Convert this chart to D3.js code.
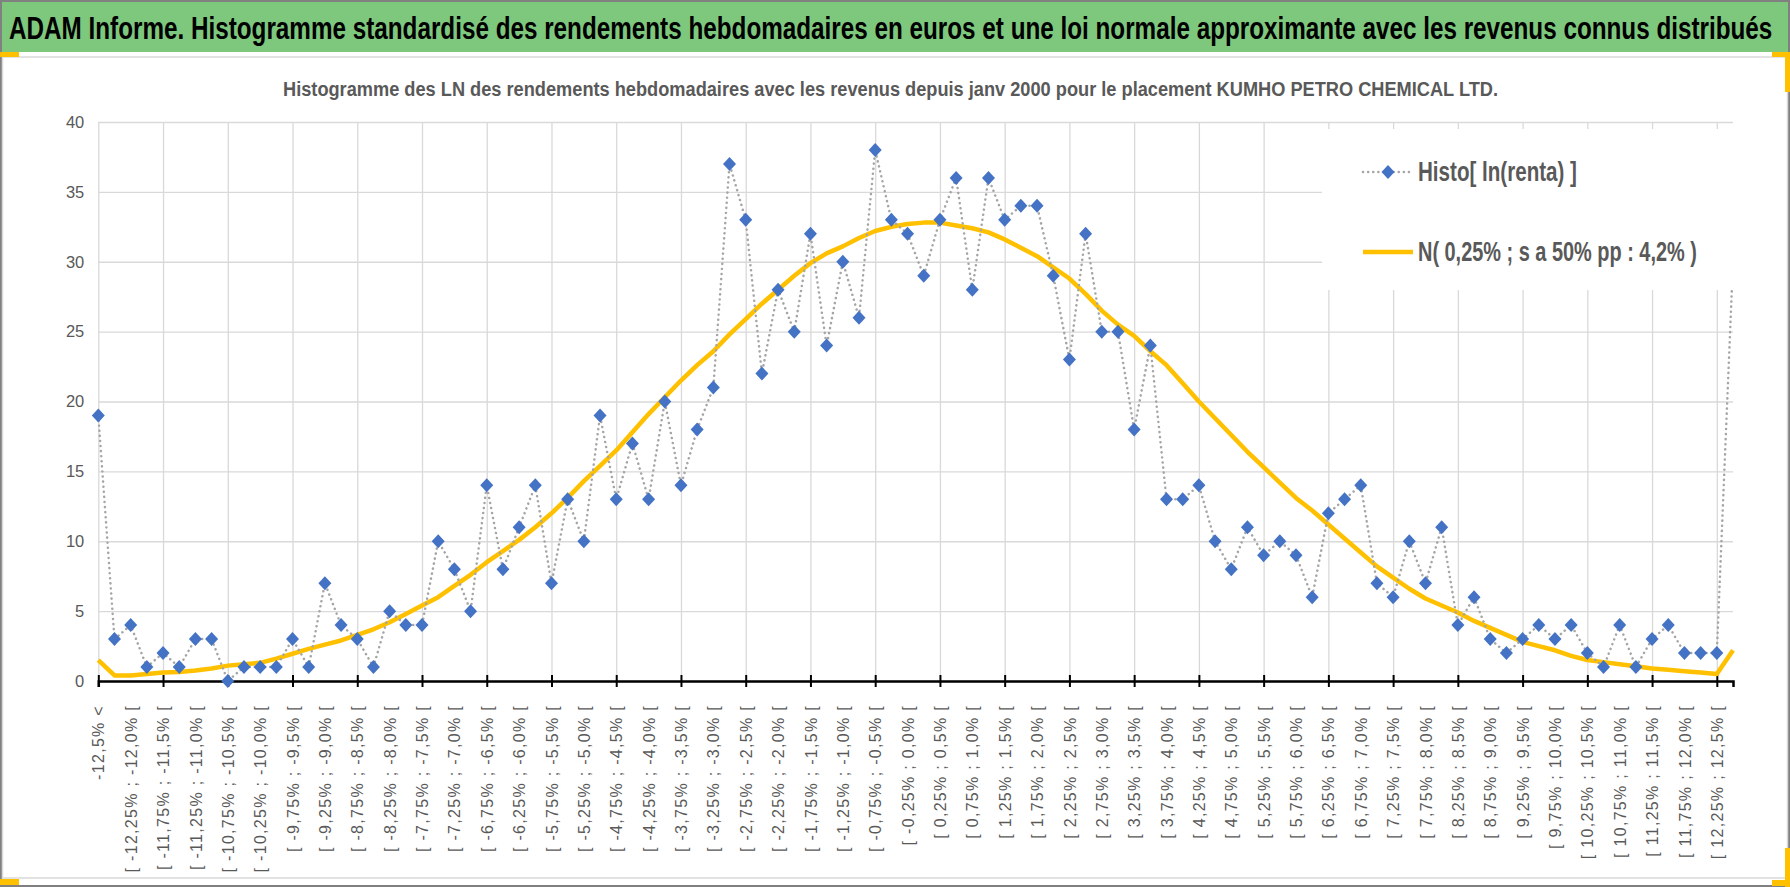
<!DOCTYPE html>
<html lang="fr">
<head>
  <meta charset="UTF-8">
  <title>ADAM Informe - Histogramme KUMHO PETRO CHEMICAL</title>
  <script src="https://cdnjs.cloudflare.com/ajax/libs/d3/7.8.5/d3.min.js"></script>
  <style>
    body { margin: 0; background: #fff; }
    svg { display: block; }
  </style>
</head>
<body>
  <svg width="1790" height="887"></svg>
  <script>
    // classes de rendement (une étiquette sur deux est affichée)
    const categories = [
      "-12,5% <",
      "[ -12,5% ; -12,25% [", "[ -12,25% ; -12,0% [", "[ -12,0% ; -11,75% [", "[ -11,75% ; -11,5% [",
      "[ -11,5% ; -11,25% [", "[ -11,25% ; -11,0% [", "[ -11,0% ; -10,75% [", "[ -10,75% ; -10,5% [",
      "[ -10,5% ; -10,25% [", "[ -10,25% ; -10,0% [", "[ -10,0% ; -9,75% [", "[ -9,75% ; -9,5% [",
      "[ -9,5% ; -9,25% [", "[ -9,25% ; -9,0% [", "[ -9,0% ; -8,75% [", "[ -8,75% ; -8,5% [",
      "[ -8,5% ; -8,25% [", "[ -8,25% ; -8,0% [", "[ -8,0% ; -7,75% [", "[ -7,75% ; -7,5% [",
      "[ -7,5% ; -7,25% [", "[ -7,25% ; -7,0% [", "[ -7,0% ; -6,75% [", "[ -6,75% ; -6,5% [",
      "[ -6,5% ; -6,25% [", "[ -6,25% ; -6,0% [", "[ -6,0% ; -5,75% [", "[ -5,75% ; -5,5% [",
      "[ -5,5% ; -5,25% [", "[ -5,25% ; -5,0% [", "[ -5,0% ; -4,75% [", "[ -4,75% ; -4,5% [",
      "[ -4,5% ; -4,25% [", "[ -4,25% ; -4,0% [", "[ -4,0% ; -3,75% [", "[ -3,75% ; -3,5% [",
      "[ -3,5% ; -3,25% [", "[ -3,25% ; -3,0% [", "[ -3,0% ; -2,75% [", "[ -2,75% ; -2,5% [",
      "[ -2,5% ; -2,25% [", "[ -2,25% ; -2,0% [", "[ -2,0% ; -1,75% [", "[ -1,75% ; -1,5% [",
      "[ -1,5% ; -1,25% [", "[ -1,25% ; -1,0% [", "[ -1,0% ; -0,75% [", "[ -0,75% ; -0,5% [",
      "[ -0,5% ; -0,25% [", "[ -0,25% ; 0,0% [", "[ 0,0% ; 0,25% [", "[ 0,25% ; 0,5% [",
      "[ 0,5% ; 0,75% [", "[ 0,75% ; 1,0% [", "[ 1,0% ; 1,25% [", "[ 1,25% ; 1,5% [",
      "[ 1,5% ; 1,75% [", "[ 1,75% ; 2,0% [", "[ 2,0% ; 2,25% [", "[ 2,25% ; 2,5% [",
      "[ 2,5% ; 2,75% [", "[ 2,75% ; 3,0% [", "[ 3,0% ; 3,25% [", "[ 3,25% ; 3,5% [",
      "[ 3,5% ; 3,75% [", "[ 3,75% ; 4,0% [", "[ 4,0% ; 4,25% [", "[ 4,25% ; 4,5% [",
      "[ 4,5% ; 4,75% [", "[ 4,75% ; 5,0% [", "[ 5,0% ; 5,25% [", "[ 5,25% ; 5,5% [",
      "[ 5,5% ; 5,75% [", "[ 5,75% ; 6,0% [", "[ 6,0% ; 6,25% [", "[ 6,25% ; 6,5% [",
      "[ 6,5% ; 6,75% [", "[ 6,75% ; 7,0% [", "[ 7,0% ; 7,25% [", "[ 7,25% ; 7,5% [",
      "[ 7,5% ; 7,75% [", "[ 7,75% ; 8,0% [", "[ 8,0% ; 8,25% [", "[ 8,25% ; 8,5% [",
      "[ 8,5% ; 8,75% [", "[ 8,75% ; 9,0% [", "[ 9,0% ; 9,25% [", "[ 9,25% ; 9,5% [",
      "[ 9,5% ; 9,75% [", "[ 9,75% ; 10,0% [", "[ 10,0% ; 10,25% [", "[ 10,25% ; 10,5% [",
      "[ 10,5% ; 10,75% [", "[ 10,75% ; 11,0% [", "[ 11,0% ; 11,25% [", "[ 11,25% ; 11,5% [",
      "[ 11,5% ; 11,75% [", "[ 11,75% ; 12,0% [", "[ 12,0% ; 12,25% [", "[ 12,25% ; 12,5% [",
      "> 12,5%"
    ];

    // nombre de semaines par classe
    const histo = [
      19, 3, 4, 1, 2, 1, 3, 3, 0, 1,
      1, 1, 3, 1, 7, 4, 3, 1, 5, 4,
      4, 10, 8, 5, 14, 8, 11, 14, 7, 13,
      10, 19, 13, 17, 13, 20, 14, 18, 21, 37,
      33, 22, 28, 25, 32, 24, 30, 26, 38, 33,
      32, 29, 33, 36, 28, 36, 33, 34, 34, 29,
      23, 32, 25, 25, 18, 24, 13, 13, 14, 10,
      8, 11, 9, 10, 9, 6, 12, 13, 14, 7,
      6, 10, 7, 11, 4, 6, 3, 2, 3, 4,
      3, 4, 2, 1, 4, 1, 3, 4, 2, 2,
      2, 30
    ];

    // loi normale approximante
    const normale = [
      1.5, 0.4, 0.4, 0.5, 0.6, 0.65, 0.75, 0.9, 1.1, 1.2,
      1.3, 1.6, 1.95, 2.3, 2.6, 2.9, 3.3, 3.7, 4.2, 4.8,
      5.4, 6.0, 6.8, 7.6, 8.5, 9.3, 10.1, 11.0, 12.0, 13.1,
      14.3, 15.4, 16.5, 17.8, 19.1, 20.3, 21.5, 22.6, 23.6, 24.8,
      25.9, 27.0, 28.0, 29.0, 29.9, 30.6, 31.1, 31.7, 32.2, 32.5,
      32.7, 32.8, 32.8, 32.6, 32.4, 32.1, 31.6, 31.0, 30.4, 29.6,
      28.8, 27.7, 26.5, 25.5, 24.7, 23.6, 22.6, 21.3, 20.0, 18.8,
      17.6, 16.4, 15.3, 14.2, 13.1, 12.2, 11.2, 10.2, 9.2, 8.2,
      7.4, 6.6, 5.9, 5.4, 4.9, 4.3, 3.8, 3.3, 2.8, 2.5,
      2.2, 1.8, 1.5, 1.35, 1.2, 1.05, 0.9, 0.8, 0.7, 0.6,
      0.5, 2.2
    ];

    const yTicks = [0, 5, 10, 15, 20, 25, 30, 35, 40];
    const titre = "ADAM Informe. Histogramme standardisé des rendements hebdomadaires en euros et une loi normale approximante avec les revenus connus distribués";
    const sousTitre = "Histogramme des LN des rendements hebdomadaires avec les revenus depuis janv 2000 pour le placement KUMHO PETRO CHEMICAL LTD.";
    const legende = ["Histo[ ln(renta) ]", "N( 0,25% ; s a 50% pp : 4,2% )"];

    const svg = d3.select("svg");
    const W = 1790, H = 887;
    const plot = { left: 98.3, right: 1733, top: 122, bottom: 681 };
    const grey = "#595959";
    const narrow = "'Liberation Sans Narrow', 'Liberation Sans', Arial, sans-serif";

    // squeeze a text horizontally so it spans the given width (Calibri-like look)
    function condensed(g, x0, y0, width) {
      g.each(function() {
        const w = this.getComputedTextLength();
        d3.select(this).attr("transform", `translate(${x0},${y0}) scale(${width / w},1)`);
      });
    }

    // cadre, bandeau titre
    svg.append("rect").attr("x", 1).attr("y", 1).attr("width", W - 2).attr("height", H - 2)
      .attr("fill", "#fff").attr("stroke", "#808080").attr("stroke-width", 2);
    svg.append("rect").attr("x", 2).attr("y", 2).attr("width", W - 4).attr("height", 50)
      .attr("fill", "#7ec87e");
    svg.append("rect").attr("x", 2.5).attr("y", 57).attr("width", W - 5).attr("height", 821)
      .attr("fill", "none").attr("stroke", "#d9d9d9").attr("stroke-width", 1.5);

    const orange = [[0, 52, 19, 5], [1772, 52, 18, 5], [1785, 52, 5, 40],
                    [0, 879, 19, 6], [1772, 880, 18, 6], [1785, 848, 5, 39]];
    svg.append("g").selectAll("rect").data(orange).join("rect")
      .attr("x", d => d[0]).attr("y", d => d[1]).attr("width", d => d[2]).attr("height", d => d[3])
      .attr("fill", "#ffc000");

    svg.append("text")
      .attr("font-family", narrow).attr("font-weight", "bold").attr("font-size", 31).attr("fill", "#000")
      .text(titre)
      .call(condensed, 9, 39, 1764);

    svg.append("text")
      .attr("font-family", narrow).attr("font-weight", "bold").attr("font-size", 21).attr("fill", grey)
      .text(sousTitre)
      .call(condensed, 283, 96, 1216);

    // échelles
    const x = d3.scalePoint().domain(categories).range([plot.left, plot.right]);
    const y = d3.scaleLinear().domain([0, 40]).range([plot.bottom, plot.top]);
    const every4 = categories.filter((d, i) => i % 4 === 0);
    const every2 = categories.filter((d, i) => i % 2 === 0);

    // quadrillage
    svg.append("g").attr("transform", `translate(0,${plot.bottom})`)
      .call(d3.axisBottom(x).tickValues(every4).tickSize(-(plot.bottom - plot.top)).tickFormat(""))
      .call(g => g.select(".domain").remove())
      .call(g => g.selectAll("line").attr("stroke", "#d9d9d9").attr("stroke-width", 1.3));

    svg.append("g").attr("transform", `translate(${plot.left},0)`)
      .call(d3.axisLeft(y).tickValues(yTicks).tickSize(-(plot.right - plot.left)).tickPadding(14))
      .call(g => g.select(".domain").remove())
      .call(g => g.selectAll("line").attr("stroke", "#d9d9d9").attr("stroke-width", 1.3))
      .call(g => g.selectAll("text").attr("fill", grey).attr("font-size", 16.5)
        .attr("font-family", "'Liberation Sans', Arial, sans-serif"));

    // axe des catégories
    const xAxis = svg.append("g").attr("transform", `translate(0,${plot.bottom})`);
    xAxis.append("g")
      .call(d3.axisBottom(x).tickValues(every4).tickSize(6).tickFormat(""))
      .call(g => g.select(".domain").attr("stroke", "#000").attr("stroke-width", 2.5))
      .call(g => g.selectAll(".tick line").attr("y1", -6).attr("stroke", "#000").attr("stroke-width", 2));
    xAxis.append("g")
      .call(d3.axisBottom(x).tickValues(every2).tickSize(0))
      .call(g => g.select(".domain").remove())
      .call(g => g.selectAll("text")
        .attr("transform", "rotate(-90)")
        .attr("x", -24).attr("y", 0).attr("dy", "0.35em")
        .style("text-anchor", "end")
        .attr("fill", grey).attr("font-size", 16).attr("letter-spacing", 1.3)
        .attr("font-family", "'Liberation Sans', Arial, sans-serif"));

    // séries
    const line = d3.line().x((d, i) => x(categories[i])).y(d => y(d));

    svg.append("path").datum(normale)
      .attr("d", line).attr("fill", "none")
      .attr("stroke", "#ffc000").attr("stroke-width", 4.5).attr("stroke-linejoin", "round");

    svg.append("path").datum(histo)
      .attr("d", line).attr("fill", "none")
      .attr("stroke", "#a5a5a5").attr("stroke-width", 2.5)
      .attr("stroke-dasharray", "0.1 5").attr("stroke-linecap", "round");

    const diamond = "M0,-7L6.5,0L0,7L-6.5,0Z";
    svg.append("g").selectAll("path").data(histo).join("path")
      .attr("d", diamond)
      .attr("transform", (d, i) => `translate(${x(categories[i])},${y(d)})`)
      .attr("fill", "#4472c4");

    // légende
    const leg = svg.append("g");
    leg.append("rect").attr("x", 1322).attr("y", 129).attr("width", 420).attr("height", 161).attr("fill", "#fff");
    leg.append("line").attr("x1", 1363).attr("x2", 1412).attr("y1", 172).attr("y2", 172)
      .attr("stroke", "#a5a5a5").attr("stroke-width", 2.5)
      .attr("stroke-dasharray", "0.1 5").attr("stroke-linecap", "round");
    leg.append("path").attr("d", diamond).attr("transform", "translate(1388,172)").attr("fill", "#4472c4");
    leg.append("line").attr("x1", 1363).attr("x2", 1413).attr("y1", 252).attr("y2", 252)
      .attr("stroke", "#ffc000").attr("stroke-width", 4.5);
    leg.selectAll("text").data(legende).join("text")
      .attr("font-family", narrow).attr("font-weight", "bold").attr("font-size", 27).attr("fill", grey)
      .text(d => d)
      .each(function(d, i) {
        d3.select(this).call(condensed, 1418, i === 0 ? 181 : 261, i === 0 ? 159 : 279);
      });
  </script>
</body>
</html>
